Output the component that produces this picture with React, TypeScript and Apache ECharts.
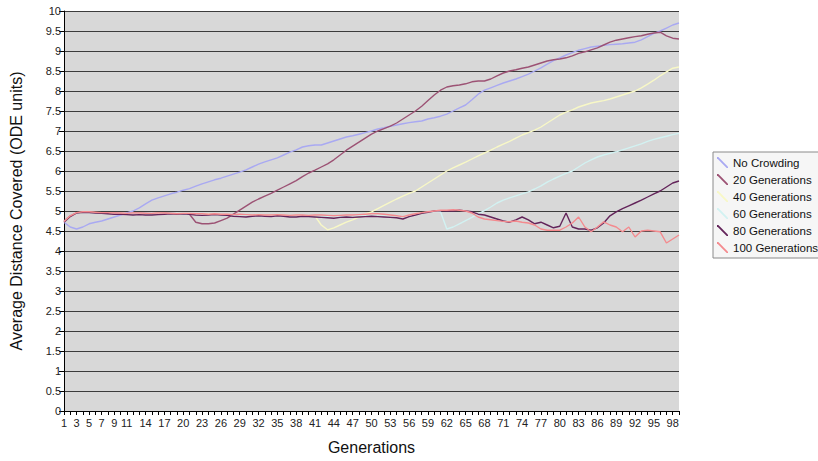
import React, { useEffect, useRef } from "react";
import * as echarts from "echarts";

const generations: string[] = Array.from({ length: 99 }, (_, i) => String(i + 1));

const xTickLabels: string[] = [
  "1", "3", "5", "7", "9", "11", "14", "17", "20", "23", "26", "29", "32", "35", "38",
  "41", "44", "47", "50", "53", "56", "59", "62", "65", "68", "71", "74", "77", "80",
  "83", "86", "89", "92", "95", "98",
];

const seriesNames: string[] = [
  "No Crowding",
  "20 Generations",
  "40 Generations",
  "60 Generations",
  "80 Generations",
  "100 Generations",
];

const noCrowding: number[] = [
  4.72, 4.6, 4.55, 4.6, 4.68, 4.72, 4.75, 4.8, 4.85, 4.9,
  4.95, 5.0, 5.08, 5.18, 5.27, 5.33, 5.38, 5.43, 5.47, 5.52,
  5.56, 5.62, 5.68, 5.73, 5.78, 5.82, 5.87, 5.92, 5.97, 6.03,
  6.1, 6.17, 6.23, 6.28, 6.33, 6.4, 6.47, 6.53, 6.6, 6.63,
  6.65, 6.65, 6.7, 6.75, 6.8, 6.85, 6.88, 6.92, 6.96, 7.0,
  7.05, 7.08, 7.12, 7.15, 7.18, 7.21, 7.23, 7.25, 7.3, 7.33,
  7.37, 7.42, 7.5, 7.58, 7.65, 7.78, 7.92, 8.02, 8.08, 8.14,
  8.2, 8.25, 8.3, 8.36, 8.42, 8.5, 8.58, 8.67, 8.76, 8.83,
  8.9, 8.96, 9.02, 9.06, 9.1, 9.12, 9.14, 9.16, 9.17, 9.18,
  9.2, 9.22, 9.28, 9.36, 9.44, 9.5, 9.57, 9.65, 9.7,
];

const gen20: number[] = [
  4.75, 4.88, 4.95, 4.97, 4.97, 4.96, 4.95, 4.94, 4.95, 4.94,
  4.93, 4.94, 4.95, 4.94, 4.93, 4.94, 4.95, 4.94, 4.93, 4.93,
  4.92, 4.72, 4.68, 4.68, 4.7, 4.76, 4.82, 4.92, 5.02, 5.12,
  5.22, 5.3, 5.37, 5.44, 5.52, 5.6, 5.68, 5.76, 5.86, 5.95,
  6.02, 6.1, 6.18, 6.28, 6.4, 6.52, 6.62, 6.72, 6.82, 6.92,
  7.0, 7.06, 7.12, 7.2, 7.3, 7.4, 7.5, 7.62, 7.76, 7.9,
  8.02, 8.1, 8.13, 8.15, 8.18, 8.23, 8.25, 8.25, 8.3, 8.38,
  8.45, 8.5, 8.53, 8.57, 8.6, 8.65, 8.7, 8.75, 8.78, 8.8,
  8.83, 8.88, 8.94, 8.98, 9.03, 9.08, 9.15, 9.22, 9.27, 9.3,
  9.33, 9.36, 9.38, 9.42, 9.45, 9.47, 9.38, 9.32, 9.3,
];

const gen40: number[] = [
  4.73, 4.87, 4.95, 4.97, 4.97, 4.96, 4.95, 4.95, 4.94, 4.94,
  4.93, 4.93, 4.94, 4.93, 4.93, 4.94, 4.94, 4.93, 4.93, 4.93,
  4.92, 4.92, 4.91, 4.92, 4.91, 4.9, 4.91, 4.9, 4.9, 4.9,
  4.89, 4.9, 4.89, 4.89, 4.9, 4.89, 4.88, 4.89, 4.88, 4.88,
  4.87, 4.65, 4.53, 4.58, 4.65, 4.72, 4.78, 4.85, 4.92, 4.98,
  5.06, 5.14, 5.22, 5.3, 5.37, 5.44, 5.5, 5.6, 5.7, 5.8,
  5.9, 6.0, 6.08, 6.15, 6.22, 6.3, 6.38, 6.45, 6.52, 6.6,
  6.67, 6.74, 6.82, 6.9, 6.96, 7.02, 7.1, 7.2, 7.3, 7.4,
  7.47, 7.53, 7.6, 7.65, 7.7, 7.73, 7.76, 7.8, 7.85, 7.9,
  7.95, 8.0, 8.08, 8.17, 8.27, 8.38, 8.48, 8.57, 8.6,
];

const gen60: number[] = [
  4.73, 4.87, 4.95, 4.96, 4.96, 4.95, 4.95, 4.94, 4.94, 4.93,
  4.93, 4.93, 4.94, 4.93, 4.93, 4.93, 4.94, 4.93, 4.92, 4.92,
  4.92, 4.91, 4.91, 4.91, 4.9, 4.9, 4.9, 4.89, 4.89, 4.89,
  4.88, 4.89, 4.88, 4.88, 4.89, 4.88, 4.87, 4.88, 4.88, 4.87,
  4.88, 4.88, 4.87, 4.86, 4.87, 4.88, 4.88, 4.89, 4.9, 4.91,
  4.91, 4.9, 4.89, 4.87, 4.86, 4.89, 4.92, 4.95, 4.97, 4.99,
  4.98, 4.55, 4.6, 4.68, 4.76, 4.84, 4.93, 5.01, 5.1, 5.2,
  5.27, 5.33, 5.38, 5.43, 5.48, 5.55, 5.63, 5.72, 5.8, 5.87,
  5.94, 6.0, 6.1, 6.2, 6.28, 6.35, 6.4, 6.44, 6.48, 6.53,
  6.58, 6.63, 6.68, 6.74, 6.79, 6.83, 6.87, 6.91, 6.94,
];

const gen80: number[] = [
  4.72, 4.86, 4.95, 4.97, 4.96, 4.95, 4.94, 4.93, 4.92, 4.92,
  4.91, 4.9, 4.91, 4.9, 4.9, 4.91, 4.92, 4.93, 4.92, 4.93,
  4.92, 4.9, 4.89, 4.9, 4.91, 4.9, 4.89, 4.87, 4.86, 4.85,
  4.87, 4.88, 4.87, 4.86, 4.88, 4.87, 4.85, 4.85, 4.87, 4.86,
  4.85, 4.84, 4.83, 4.82, 4.84, 4.85, 4.84, 4.85, 4.86, 4.87,
  4.86, 4.85, 4.84, 4.83, 4.8, 4.86, 4.9, 4.94, 4.97, 5.0,
  5.01, 5.0, 5.0, 5.02, 5.0, 4.98, 4.92, 4.9, 4.85, 4.8,
  4.75, 4.72, 4.78, 4.85, 4.78, 4.68, 4.72, 4.65, 4.58, 4.62,
  4.95, 4.6, 4.55, 4.55, 4.52, 4.58, 4.7, 4.88, 4.98, 5.06,
  5.13, 5.2, 5.27, 5.35, 5.43, 5.5, 5.6, 5.7, 5.75,
];

const gen100: number[] = [
  4.74, 4.88, 4.96, 4.98, 4.98, 4.97, 4.96, 4.96, 4.95, 4.95,
  4.94, 4.95, 4.95, 4.94, 4.94, 4.95, 4.95, 4.94, 4.93, 4.94,
  4.94, 4.93, 4.93, 4.92, 4.93, 4.92, 4.92, 4.91, 4.92, 4.91,
  4.9, 4.91, 4.9, 4.9, 4.91, 4.9, 4.89, 4.9, 4.9, 4.89,
  4.9, 4.9, 4.89, 4.88, 4.89, 4.9, 4.9, 4.91, 4.92, 4.93,
  4.93, 4.92, 4.9, 4.88, 4.86, 4.9, 4.93, 4.96, 4.98, 5.0,
  5.02, 5.02, 5.03, 5.02, 5.0, 4.95, 4.85, 4.8, 4.78, 4.76,
  4.74, 4.73, 4.75, 4.72, 4.7, 4.65, 4.55, 4.52, 4.52, 4.52,
  4.6, 4.7, 4.85, 4.6, 4.48, 4.6, 4.73, 4.65, 4.6, 4.48,
  4.6, 4.35, 4.5, 4.52, 4.5, 4.48, 4.2, 4.3, 4.4,
];

const seriesData: number[][] = [noCrowding, gen20, gen40, gen60, gen80, gen100];
const seriesColors: string[] = ["#a9a9f2", "#9c5274", "#f8f8c6", "#d2f2f2", "#63245a", "#f48a8e"];

const FONT = "'Liberation Sans', Arial, sans-serif";

export default function App() {
  const ref = useRef<HTMLDivElement>(null);

  useEffect(() => {
    if (!ref.current) return;
    const chart = echarts.init(ref.current, undefined, { renderer: "svg" });
    const tickSet = new Set(xTickLabels);
    const option: any = {
      animation: false,
      textStyle: { fontFamily: FONT },
      grid: {
        left: 60,
        right: 139,
        top: 11,
        bottom: 50,
        show: true,
        backgroundColor: "#d8d8d8",
        borderWidth: 0,
      },
      legend: {
        orient: "vertical",
        left: 713,
        top: 152,
        itemWidth: 11,
        itemHeight: 11,
        itemGap: 4,
        padding: [4, 20, 4, 4],
        backgroundColor: "#f6f6f6",
        borderColor: "#8a8a8a",
        borderWidth: 1,
        icon: "path://M0,0L1.2,0L10,8.8L10,10L8.8,10L0,1.2Z",
        textStyle: { fontSize: 11.5, lineHeight: 13, color: "#111", fontFamily: FONT },
        data: seriesNames,
      },
      xAxis: {
        type: "category",
        boundaryGap: false,
        data: generations,
        name: "Generations",
        nameLocation: "middle",
        nameGap: 28,
        nameTextStyle: { fontSize: 16, color: "#111", fontFamily: FONT },
        axisLine: { show: true, lineStyle: { color: "#000", width: 1 } },
        axisTick: { show: true, interval: 0, length: 4, lineStyle: { color: "#000" } },
        axisLabel: {
          interval: (_i: number, v: string) => tickSet.has(v),
          fontSize: 11,
          color: "#222",
          margin: 6,
          fontFamily: FONT,
        },
        splitLine: { show: false },
      },
      yAxis: {
        type: "value",
        min: 0,
        max: 10,
        interval: 0.5,
        name: "Average Distance Covered (ODE units)",
        nameLocation: "middle",
        nameGap: 40,
        nameTextStyle: { fontSize: 16, color: "#111", fontFamily: FONT },
        axisLine: { show: true, lineStyle: { color: "#000", width: 1 } },
        axisTick: { show: true, length: 5, lineStyle: { color: "#000" } },
        axisLabel: { fontSize: 11, color: "#222", margin: 3, fontFamily: FONT },
        splitLine: { show: true, lineStyle: { color: "#3c3c3c", width: 1 } },
      },
      series: seriesNames.map((name, i) => ({
        name,
        type: "line",
        data: seriesData[i],
        showSymbol: false,
        symbol: "none",
        color: seriesColors[i],
        lineStyle: { color: seriesColors[i], width: 1.4 },
      })),
    };
    chart.setOption(option);
    return () => chart.dispose();
  }, []);

  return (
    <div
      ref={ref}
      style={{ position: "fixed", left: 0, top: 0, width: 818, height: 461, background: "#fff" }}
    />
  );
}
